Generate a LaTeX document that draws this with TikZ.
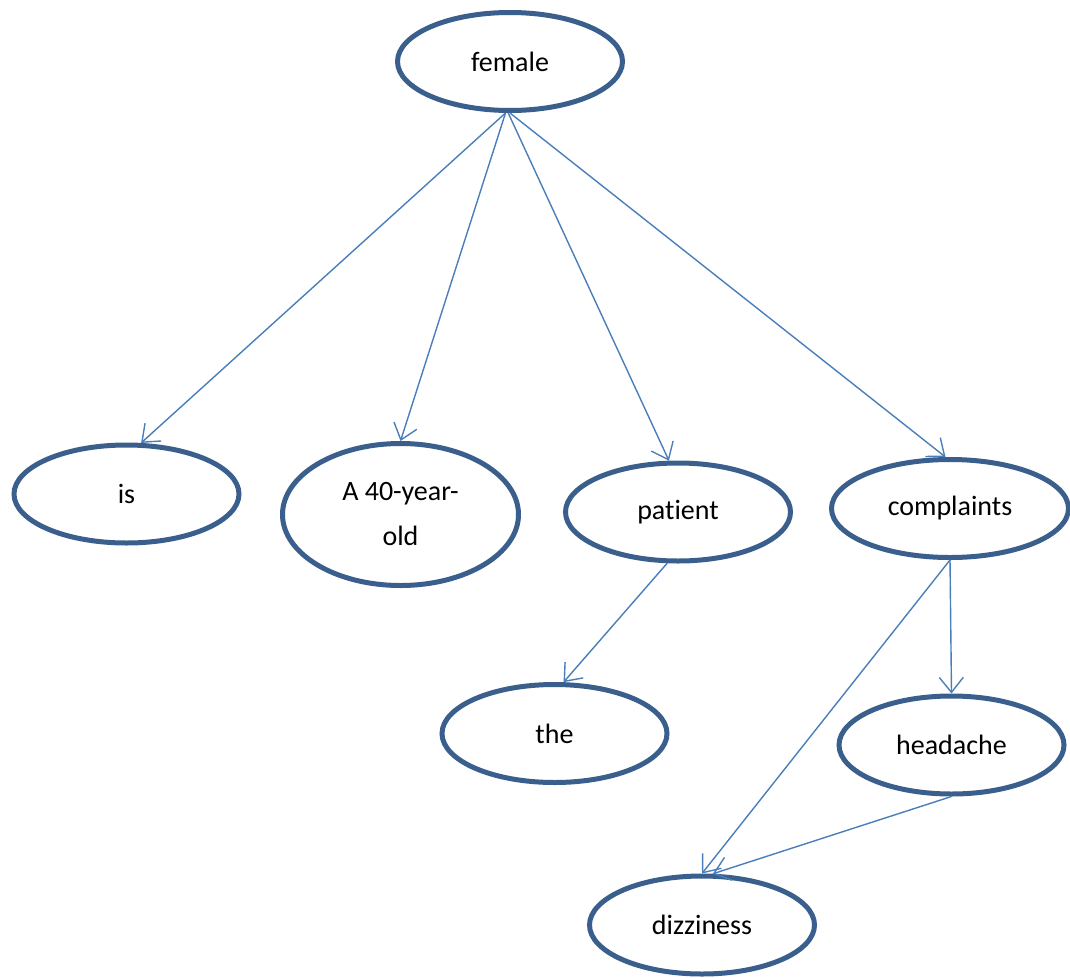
\documentclass[tikz,border=0pt]{standalone}
\usepackage{fontspec}
\setmainfont[Ligatures={NoCommon}]{Carlito}
\usetikzlibrary{shapes.geometric,arrows.meta}
\definecolor{ellborder}{HTML}{3A5F8C}
\definecolor{arrowblue}{HTML}{4A7EBB}
\tikzset{
  ell/.style={ellipse, draw=ellborder, line width=5pt, fill=white,
    minimum width=225pt, minimum height=98pt, inner sep=0pt, align=center,
    font=\fontsize{28}{45}\selectfont},
  conn/.style={draw=arrowblue, line width=1.4pt,
    -{Straight Barb[length=15pt,width=24pt,line width=1.4pt]}}
}
\begin{document}
\begin{tikzpicture}[x=1pt,y=-1pt]
\useasboundingbox (0,0) rectangle (1070,977);
\node[ell] (female) at (510,61.5) {female};
\node[ell] (is) at (126.5,494) {is};
\node[ell, minimum width=236pt, minimum height=142pt] (old) at (400.5,514.5) {A 40-year-\\old};
\node[ell] (patient) at (678,512) {patient};
\node[ell, minimum width=237pt] (compl) at (950,508.5) {complaints};
\node[ell] (the) at (554.5,733.5) {the};
\node[ell] (head) at (951.5,745) {headache};
\node[ell] (dizz) at (702,925) {dizziness};

\draw[conn] (female.265) -- (is.74);
\draw[conn] (female.265) -- (old.north);
\draw[conn] (female.268) -- (patient.100);
\draw[conn] (female.270) -- (compl.95);
\draw[conn] (patient.258) -- (the.80);
\draw[conn] (compl.south) -- (head.north);
\draw[conn] (compl.south) -- (dizz.north);
\draw[conn] (head.south) -- (dizz.78);
\end{tikzpicture}
\end{document}
